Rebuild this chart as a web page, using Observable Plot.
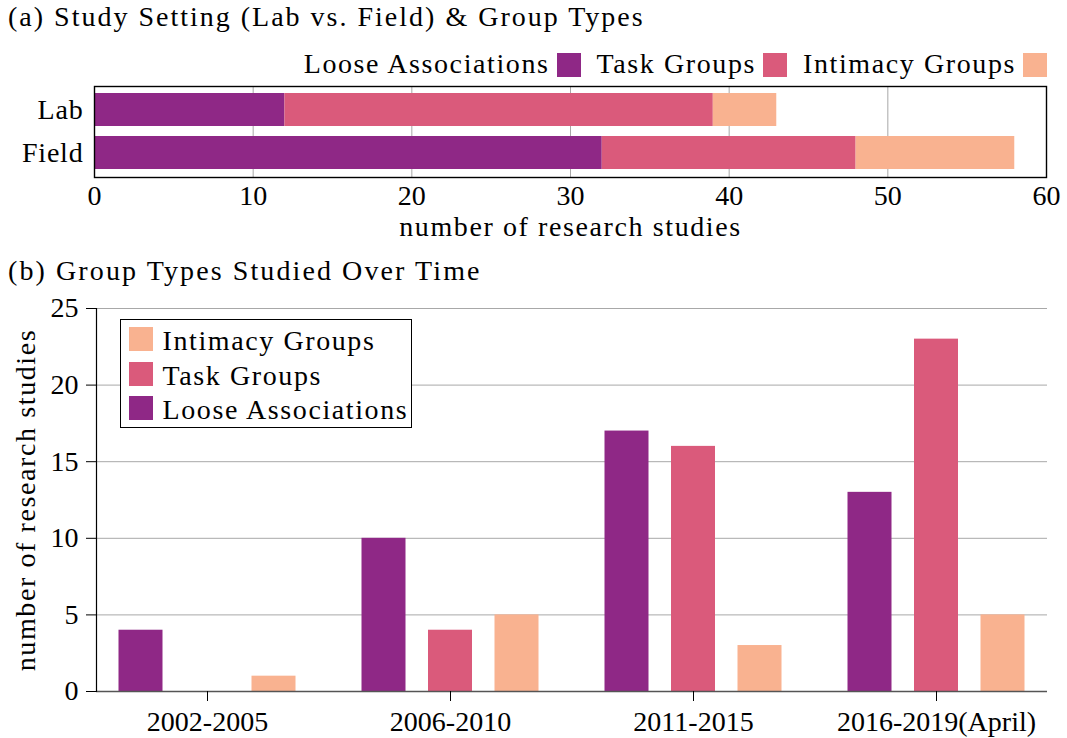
<!DOCTYPE html>
<html><head><meta charset="utf-8">
<script src="https://cdn.jsdelivr.net/npm/d3@7"></script>
<script src="https://cdn.jsdelivr.net/npm/@observablehq/plot@0.6"></script>
<style>
body{margin:0;background:#fff;}
#root{position:relative;width:1067px;height:738px;overflow:hidden;font-family:"Liberation Serif","Times New Roman","DejaVu Serif",serif;color:#000;}
.abs{position:absolute;}
.txt{font-size:28px;line-height:28px;white-space:nowrap;}
.word{letter-spacing:1.6px;}
.sw{width:24px;height:24px;flex:none;}
svg{overflow:visible;}
</style></head>
<body><div id="root"></div>
<script>
// ---- data ----
const groupTypes = ["Loose Associations", "Task Groups", "Intimacy Groups"];
const groupColors = ["#8f2886", "#da5a7b", "#f9b290"];

const settings = ["Lab", "Field"];
const settingLoose = [12, 32];
const settingTask = [27, 16];
const settingIntimacy = [4, 10];
const settingTicks = [0, 10, 20, 30, 40, 50, 60];

const periods = ["2002-2005", "2006-2010", "2011-2015", "2016-2019(April)"];
const periodLoose = [4, 10, 17, 13];
const periodTask = [0, 4, 16, 23];
const periodIntimacy = [1, 5, 3, 5];
const periodTicks = [0, 5, 10, 15, 20, 25];

const titleA = "(a) Study Setting (Lab vs. Field) & Group Types";
const titleB = "(b) Group Types Studied Over Time";
const axisLabel = "number of research studies";

// ---- build tables ----
const seriesA = [settingLoose, settingTask, settingIntimacy];
const dataA = settings.flatMap((s, i) => groupTypes.map((t, k) => ({setting: s, type: t, n: seriesA[k][i]})));
const seriesB = [periodLoose, periodTask, periodIntimacy];
const dataB = periods.flatMap((p, i) => groupTypes.map((t, k) => ({period: p, type: t, n: seriesB[k][i]})));
const barOffsets = [-66.5, 0, 66.5];

const root = document.getElementById("root");
function el(tag, cls, css, text) {
  const e = document.createElement(tag);
  if (cls) e.className = cls;
  if (css) e.style.cssText = css;
  if (text != null) e.textContent = text;
  return e;
}
function spaceWords(svg, text, ls) {
  svg.querySelectorAll("text").forEach(t => { if (t.textContent === text) t.style.letterSpacing = ls; });
  svg.querySelectorAll("tspan").forEach(t => { if (t.textContent === text) t.style.letterSpacing = ls; });
}
const FONT = "'Liberation Serif', 'Times New Roman', 'DejaVu Serif', serif";
const fontStyle = {fontFamily: FONT, fontSize: "28px", color: "#000", background: "transparent", overflow: "visible"};
const colorScale = {domain: groupTypes, range: groupColors};

// ---- panel (a) ----
root.appendChild(el("div", "abs txt", "left:8px;top:3px;letter-spacing:2.0px;", titleA));

const legA = el("div", "abs", "right:20px;top:50px;display:flex;align-items:flex-start;gap:16px;");
groupTypes.forEach((t, k) => {
  const item = el("div", "", "display:flex;align-items:flex-start;");
  item.appendChild(el("span", "txt word", "", t));
  item.appendChild(el("div", "sw", `background:${groupColors[k]};margin-left:7px;margin-top:3px;`));
  legA.appendChild(item);
});
root.appendChild(legA);

const chartA = Plot.plot({
  width: 1067, height: 165,
  marginLeft: 94, marginRight: 21, marginTop: 6, marginBottom: 68,
  style: fontStyle,
  x: {domain: [0, 60]},
  y: {domain: settings, paddingInner: 0.227, paddingOuter: 0.16},
  color: colorScale,
  marks: [
    Plot.gridX({ticks: settingTicks.slice(1, -1), stroke: "#a8a8a8", strokeOpacity: 1, strokeWidth: 1}),
    Plot.barX(dataA, Plot.stackX({y: "setting", x: "n", fill: "type"})),
    Plot.frame({stroke: "#000", strokeWidth: 1.4}),
    Plot.axisX({ticks: settingTicks, tickSize: 0, tickPadding: 8, fontSize: 28, label: axisLabel, labelAnchor: "center", labelOffset: 58, labelArrow: "none"}),
    Plot.axisY({tickSize: 0, tickPadding: 11, fontSize: 28, label: null})
  ]
});
spaceWords(chartA, axisLabel, "1.6px");
spaceWords(chartA, "Field", "0.8px");
spaceWords(chartA, "Lab", "0.8px");
const wa = el("div", "abs", "left:0;top:80px;");
wa.appendChild(chartA);
root.appendChild(wa);

// ---- panel (b) ----
root.appendChild(el("div", "abs txt", "left:8px;top:257px;letter-spacing:2.1px;", titleB));

const chartB = Plot.plot({
  width: 1067, height: 448,
  marginLeft: 96, marginRight: 20, marginTop: 18, marginBottom: 47,
  style: fontStyle,
  x: {domain: periods, paddingInner: 0.819, paddingOuter: 0.366},
  y: {domain: [0, 25]},
  color: colorScale,
  marks: [
    Plot.gridY({ticks: periodTicks.slice(1), stroke: "#a8a8a8", strokeOpacity: 1, strokeWidth: 1}),
    ...groupTypes.map((t, k) => Plot.barY(dataB.filter(d => d.type === t), {x: "period", y: "n", fill: "type", dx: barOffsets[k]})),
    Plot.ruleY([0], {stroke: "#555", strokeWidth: 1.6}),
    Plot.frame({anchor: "left", stroke: "#000", strokeWidth: 1.2}),
    Plot.axisY({ticks: periodTicks, tickSize: 10, tickPadding: 8, fontSize: 28, label: axisLabel, labelAnchor: "center", labelOffset: 81, labelArrow: "none"}),
    Plot.axisX({tickSize: 10, tickPadding: 10, fontSize: 28, label: null})
  ]
});
spaceWords(chartB, axisLabel, "1.6px");
const wb = el("div", "abs", "left:0;top:290px;");
wb.appendChild(chartB);
root.appendChild(wb);

// legend box (b)
const legB = el("div", "abs", "left:119.5px;top:319px;width:290px;height:107px;border:1.5px solid #000;background:#fff;");
[2, 1, 0].forEach((k, r) => {
  const row = el("div", "abs", `left:8px;top:${7 + r * 34.5}px;display:flex;align-items:flex-start;`);
  row.appendChild(el("div", "sw", `background:${groupColors[k]};`));
  row.appendChild(el("span", "txt word", "margin-left:10px;", groupTypes[k]));
  legB.appendChild(row);
});
root.appendChild(legB);
</script>
</body></html>
